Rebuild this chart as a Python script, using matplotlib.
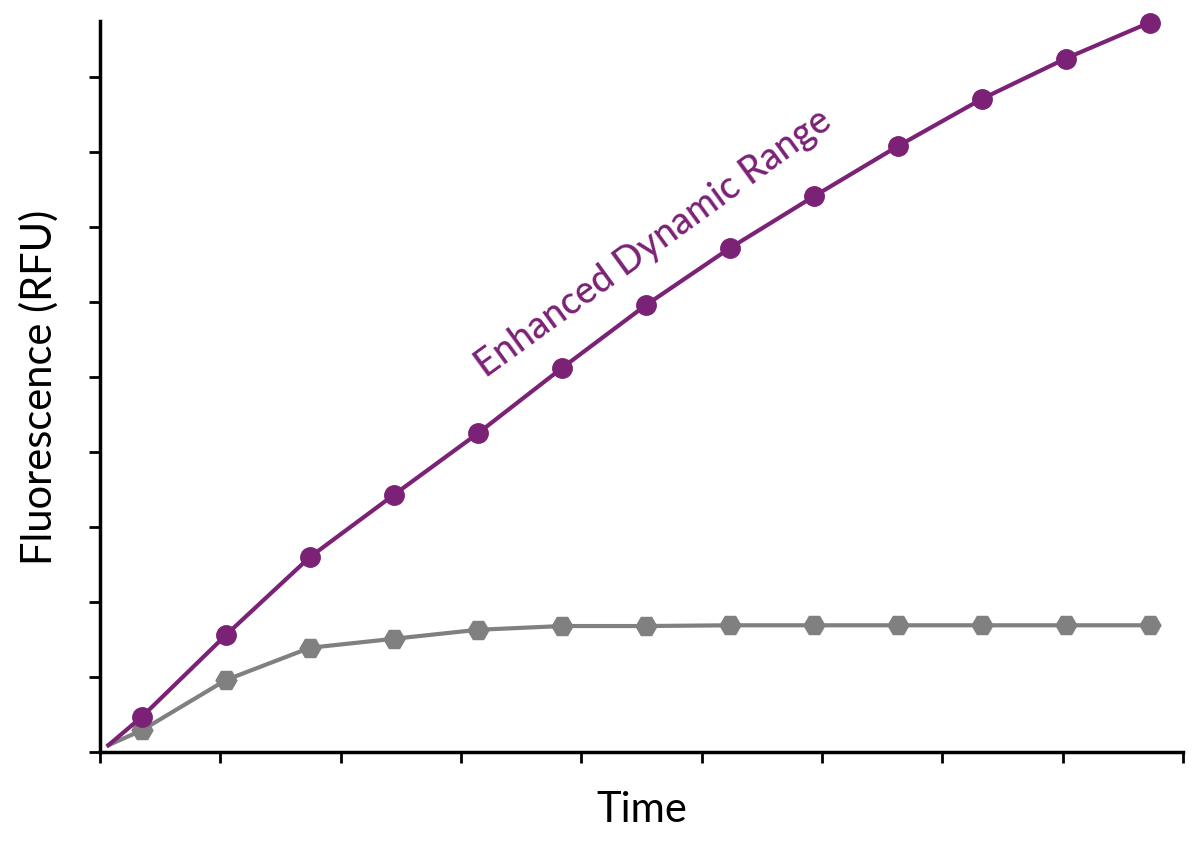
import matplotlib.pyplot as plt
import numpy as np

# time points (arbitrary units) and fluorescence readings
time = [0.1, 0.5, 1.5, 2.5, 3.5, 4.5, 5.5, 6.5, 7.5, 8.5, 9.5, 10.5, 11.5, 12.5]
enhanced = [0.09, 0.47, 1.56, 2.6, 3.43, 4.25, 5.12, 5.96, 6.72, 7.41, 8.08, 8.71, 9.25, 9.73]
standard = [0.09, 0.29, 0.96, 1.39, 1.51, 1.63, 1.68, 1.68, 1.69, 1.69, 1.69, 1.69, 1.69, 1.69]

purple = '#7b2277'
grey = '#808080'

plt.rcParams['font.family'] = ['Lato', 'DejaVu Sans']

fig = plt.figure(figsize=(12, 8.45), dpi=100)
ax = fig.add_axes([0.0833, 0.1089, 0.9027, 0.865])

# grey line first, markers skip the start point
ax.plot(time, standard, color=grey, lw=3, zorder=2, clip_on=False)
ax.plot(time[1:], standard[1:], 'H', color=grey, ms=15, zorder=2, clip_on=False)
ax.plot(time, enhanced, color=purple, lw=3, zorder=3, clip_on=False)
ax.plot(time[1:], enhanced[1:], 'o', color=purple, ms=14, zorder=3, clip_on=False)

ax.text(6.6, 6.8, 'Enhanced Dynamic Range', color=purple, fontsize=27,
        fontweight='medium', rotation=36, ha='center', va='center')

ax.set_xlim(0, 12.9)
ax.set_ylim(0, 9.75)
ax.set_xticks(np.linspace(0, 12.9, 10))
ax.set_yticks(np.arange(0, 10))
ax.set_xticklabels([])
ax.set_yticklabels([])
ax.tick_params(length=8, width=2, direction='out')

for s in ['top', 'right']:
    ax.spines[s].set_visible(False)
for s in ['left', 'bottom']:
    ax.spines[s].set_linewidth(2.5)

ax.set_xlabel('Time', fontsize=30, color='black', labelpad=16)
ax.set_ylabel('Fluorescence (RFU)', fontsize=30, color='black', labelpad=18)

fig.savefig('out.png', dpi=100)
